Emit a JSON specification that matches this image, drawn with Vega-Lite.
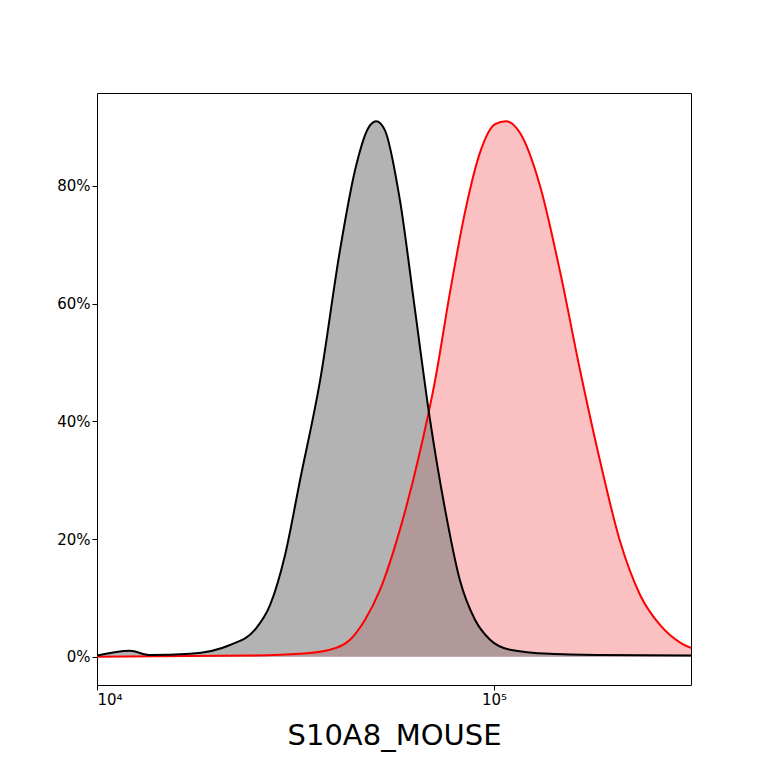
{
  "$schema": "https://vega.github.io/schema/vega-lite/v6.json",
  "autosize": {"type": "none"},
  "width": 594,
  "height": 592,
  "padding": {"left": 97, "top": 93, "right": 77, "bottom": 83},
  "config": {
    "font": "DejaVu Sans",
    "view": {"stroke": "black", "strokeWidth": 1},
    "axis": {"grid": false, "domain": false, "tickColor": "black", "labelColor": "black", "labelFontSize": 15, "tickSize": 5}
  },
  "data": {
    "values": [
      {"s": "ctrl", "x": 10000, "y": 0.002}, {"s": "ctrl", "x": 12110, "y": 0.01}, {"s": "ctrl", "x": 13600, "y": 0.003},
      {"s": "ctrl", "x": 17150, "y": 0.005}, {"s": "ctrl", "x": 21630, "y": 0.02}, {"s": "ctrl", "x": 25000, "y": 0.046},
      {"s": "ctrl", "x": 27290, "y": 0.088}, {"s": "ctrl", "x": 29760, "y": 0.173}, {"s": "ctrl", "x": 32460, "y": 0.30},
      {"s": "ctrl", "x": 36480, "y": 0.47}, {"s": "ctrl", "x": 40930, "y": 0.691}, {"s": "ctrl", "x": 44670, "y": 0.827},
      {"s": "ctrl", "x": 48190, "y": 0.898}, {"s": "ctrl", "x": 50450, "y": 0.91}, {"s": "ctrl", "x": 53090, "y": 0.895},
      {"s": "ctrl", "x": 57940, "y": 0.776}, {"s": "ctrl", "x": 63240, "y": 0.589}, {"s": "ctrl", "x": 69010, "y": 0.402},
      {"s": "ctrl", "x": 75300, "y": 0.25}, {"s": "ctrl", "x": 82050, "y": 0.13}, {"s": "ctrl", "x": 89550, "y": 0.063},
      {"s": "ctrl", "x": 97720, "y": 0.029}, {"s": "ctrl", "x": 109700, "y": 0.012}, {"s": "ctrl", "x": 138400, "y": 0.005},
      {"s": "ctrl", "x": 184900, "y": 0.003}, {"s": "ctrl", "x": 313400, "y": 0.002},
      {"s": "stain", "x": 10000, "y": 0.0}, {"s": "stain", "x": 24290, "y": 0.002}, {"s": "stain", "x": 32460, "y": 0.005},
      {"s": "stain", "x": 38620, "y": 0.012}, {"s": "stain", "x": 43380, "y": 0.029}, {"s": "stain", "x": 47330, "y": 0.063},
      {"s": "stain", "x": 51640, "y": 0.114}, {"s": "stain", "x": 57940, "y": 0.216}, {"s": "stain", "x": 65160, "y": 0.35},
      {"s": "stain", "x": 71020, "y": 0.469}, {"s": "stain", "x": 77490, "y": 0.62}, {"s": "stain", "x": 84530, "y": 0.756},
      {"s": "stain", "x": 92210, "y": 0.857}, {"s": "stain", "x": 100600, "y": 0.905}, {"s": "stain", "x": 107200, "y": 0.91},
      {"s": "stain", "x": 116300, "y": 0.89}, {"s": "stain", "x": 130600, "y": 0.80}, {"s": "stain", "x": 146600, "y": 0.655},
      {"s": "stain", "x": 164800, "y": 0.486}, {"s": "stain", "x": 184900, "y": 0.333}, {"s": "stain", "x": 207500, "y": 0.197},
      {"s": "stain", "x": 233300, "y": 0.105}, {"s": "stain", "x": 261800, "y": 0.054}, {"s": "stain", "x": 294400, "y": 0.024},
      {"s": "stain", "x": 313400, "y": 0.015}
    ]
  },
  "encoding": {
    "x": {
      "field": "x", "type": "quantitative",
      "scale": {"type": "log", "domain": [10000, 313400], "nice": false},
      "axis": {"values": [10000, 100000], "labelExpr": "datum.value == 10000 ? '10⁴' : '10⁵'", "title": "S10A8_MOUSE", "titleFontSize": 29, "titleFontWeight": "normal", "titleColor": "black", "titlePadding": 14}
    },
    "y": {
      "field": "y", "type": "quantitative",
      "scale": {"domain": [-0.048, 0.958], "nice": false, "zero": false},
      "axis": {"values": [0, 0.2, 0.4, 0.6, 0.8], "format": ".0%", "title": null}
    }
  },
  "layer": [
    {
      "transform": [{"filter": "datum.s == 'stain'"}],
      "mark": {"type": "area", "interpolate": "monotone", "color": "#ee1c25", "fillOpacity": 0.28},
      "encoding": {"y2": {"datum": 0}}
    },
    {
      "transform": [{"filter": "datum.s == 'ctrl'"}],
      "mark": {"type": "area", "interpolate": "monotone", "color": "#7a7a7a", "fillOpacity": 0.57},
      "encoding": {"y2": {"datum": 0}}
    },
    {
      "transform": [{"filter": "datum.s == 'stain'"}],
      "mark": {"type": "line", "interpolate": "monotone", "strokeWidth": 2, "color": "red"}
    },
    {
      "transform": [{"filter": "datum.s == 'ctrl'"}],
      "mark": {"type": "line", "interpolate": "monotone", "strokeWidth": 2, "color": "black"}
    }
  ]
}
